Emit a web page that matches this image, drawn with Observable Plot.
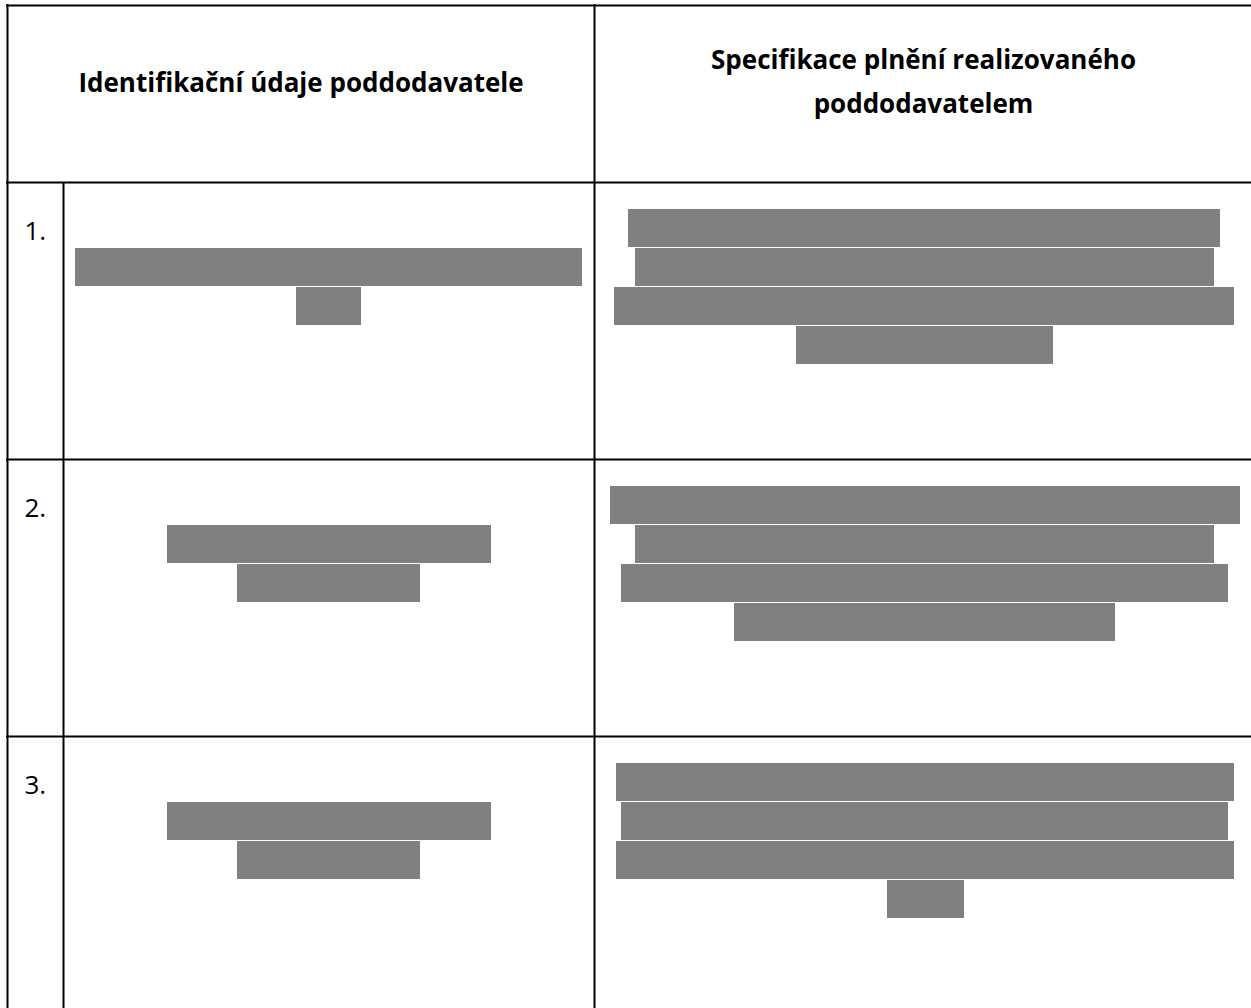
<!DOCTYPE html>
<html>
<head>
<meta charset="utf-8">
<script src="https://cdn.jsdelivr.net/npm/d3@7"></script>
<script src="https://cdn.jsdelivr.net/npm/@observablehq/plot@0.6"></script>
<style>
  html, body { margin: 0; padding: 0; background: #fff; }
  #chart svg { display: block; }
</style>
</head>
<body>
<div id="chart"></div>
<script>
// ---- data ----
const headerLeft = "Identifikační údaje poddodavatele";
const headerRight = ["Specifikace plnění realizovaného", "poddodavatelem"];
const rowLabels = ["1.", "2.", "3."];
// redacted text blocks: row, line within the cell, start and end along the page width
const barRow   = [0, 0, 0, 0, 0, 0, 1, 1, 1, 1, 1, 1, 2, 2, 2, 2, 2, 2];
const barLine  = [1, 2, 0, 1, 2, 3, 1, 2, 0, 1, 2, 3, 1, 2, 0, 1, 2, 3];
const barStart = [75, 296, 628, 635, 614, 796, 167, 237, 610, 635, 621, 734, 167, 237, 616, 621, 616, 887];
const barEnd   = [582, 361, 1220, 1214, 1234, 1053, 491, 420, 1240, 1214, 1228, 1115, 491, 420, 1234, 1228, 1234, 964];

// ---- layout ----
const W = 1251, H = 1008;
const tableTop = 5, headerBottom = 182, rowH = 277;
const colLeft = 7, colNum = 63, colMid = 594, colRight = 1252;
const lineTop = 27, linePitch = 39, barH = 38;
const rowTop = r => headerBottom + rowH * r;

const bars = barRow.map((r, i) => ({
  x1: barStart[i], x2: barEnd[i],
  y1: rowTop(r) + lineTop + linePitch * barLine[i],
  y2: rowTop(r) + lineTop + linePitch * barLine[i] + barH
}));

const hLines = [tableTop, ...rowLabels.map((_, r) => rowTop(r))].map(y => ({y, x1: colLeft - 1, x2: W}));
const vLines = [
  {x: colLeft, y1: tableTop - 1, y2: H},
  {x: colMid, y1: tableTop - 1, y2: H},
  {x: colRight, y1: tableTop - 1, y2: H},
  {x: colNum, y1: headerBottom, y2: H}
];

const headerTexts = [
  {x: (colLeft + colMid) / 2, y: 91, t: headerLeft},
  {x: (colMid + colRight) / 2, y: 68, t: headerRight[0]},
  {x: (colMid + colRight) / 2, y: 112, t: headerRight[1]}
];
const numTexts = rowLabels.map((t, r) => ({x: 24, y: rowTop(r) + 57, t}));

const font = "'Open Sans', 'Noto Sans', sans-serif";

const chart = Plot.plot({
  width: W,
  height: H,
  margin: 0,
  style: {background: "#fff", fontFamily: font},
  x: {domain: [0, W], range: [0, W], axis: null},
  y: {domain: [0, H], range: [0, H], axis: null},
  marks: [
    Plot.rect(bars, {x1: "x1", x2: "x2", y1: "y1", y2: "y2", fill: "#808080"}),
    Plot.ruleY(hLines, {y: "y", x1: "x1", x2: "x2", stroke: "#000", strokeWidth: 2}),
    Plot.ruleX(vLines, {x: "x", y1: "y1", y2: "y2", stroke: "#000", strokeWidth: 2}),
    Plot.text(headerTexts, {x: "x", y: "y", text: "t", textAnchor: "middle", lineAnchor: "bottom",
      fontSize: 26, fontWeight: "bold", fill: "#000", fontFamily: font}),
    Plot.text(numTexts, {x: "x", y: "y", text: "t", textAnchor: "start", lineAnchor: "bottom",
      fontSize: 26, fill: "#000", fontFamily: font})
  ]
});
document.getElementById("chart").appendChild(chart);
</script>
</body>
</html>
